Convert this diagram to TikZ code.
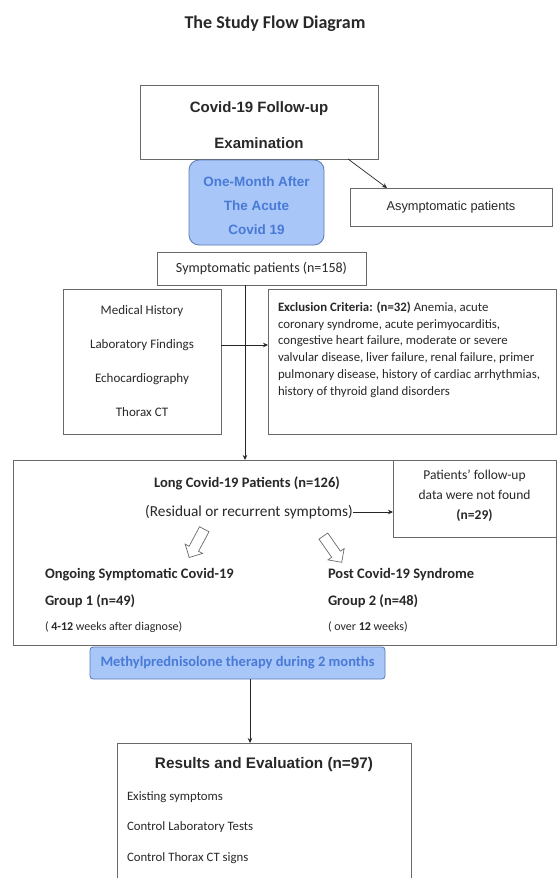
\documentclass[tikz,border=0pt]{standalone}
\usepackage{fontspec}
\setmainfont{Carlito}
\newfontfamily\arialfont{Liberation Sans}
\usetikzlibrary{positioning, shapes.arrows, arrows.meta, calc}
\definecolor{BoxLine}{RGB}{105,105,105}
\definecolor{BlueFill}{RGB}{168,198,248}
\definecolor{BlueText}{RGB}{72,122,214}
\definecolor{BlueLine}{RGB}{92,122,182}
\definecolor{Ink}{RGB}{40,40,40}

\begin{document}
\begin{tikzpicture}[
        x=1pt, y=-1pt,
        >={Stealth[length=5pt, width=4.5pt]},
        every node/.style={inner sep=0, outer sep=0, text=Ink},
        plainbox/.style={draw=BoxLine, fill=white, line width=0.8pt},
        bluebox/.style={draw=BlueLine, fill=BlueFill, line width=0.8pt},
        hollow/.style={single arrow, draw=BoxLine, fill=white, line width=0.7pt, inner sep=5pt, minimum height=32pt, single arrow head extend=4.5pt},
        link/.style={->, line width=0.7pt, black!85}
    ]
        \useasboundingbox (0,0) rectangle (557,878);

        % Title
        \node[font=\bfseries\fontsize{18}{20}\selectfont] (title) at (275,24) {The Study Flow Diagram};

        % Follow-up examination
        \node[plainbox, minimum width=238, minimum height=74] (exam) at (259,122) {};
        \node[align=center, font=\arialfont\bfseries\fontsize{15}{36}\selectfont] (examtxt) at (259,125) {Covid-19 Follow-up\\Examination};

        % One month after
        \node[bluebox, rounded corners=10pt, minimum width=135, minimum height=85] (month) at (256.5,202.5) {};
        \node[align=center, text=BlueText, font=\arialfont\bfseries\fontsize{13.5}{24}\selectfont] (monthtxt) at (256.5,206) {One-Month After\\The Acute\\Covid 19};

        % Asymptomatic
        \node[plainbox, minimum width=202, minimum height=38, font=\arialfont\fontsize{12.8}{15}\selectfont] (asym) at (451,207) {Asymptomatic patients};
        \draw[link] ([xshift=-30pt]exam.south east) -- ([xshift=37pt]asym.north west);

        % Symptomatic
        \node[plainbox, minimum width=209, minimum height=33, font=\fontsize{14}{16}\selectfont] (symp) at (261.5,268.5) {Symptomatic patients (n=158)};

        % Work-up
        \node[plainbox, minimum width=158, minimum height=145] (hist) at (142,361.5) {};
        \node[align=center, font=\fontsize{13}{34}\selectfont] (histtxt) at (142,361.5) {Medical History\\Laboratory Findings\\Echocardiography\\Thorax CT};

        % Exclusion
        \node[plainbox, minimum width=288, minimum height=145] (excl) at (412,361.5) {};
        \node[anchor=north west, align=left, font=\fontsize{12.8}{16.7}\selectfont] (excltxt) at (278,302) {\textbf{Exclusion Criteria: (n=32)} Anemia, acute\\coronary syndrome, acute perimyocarditis,\\congestive heart failure, moderate or severe\\valvular disease, liver failure, renal failure, primer\\pulmonary disease, history of cardiac arrhythmias,\\history of thyroid gland disorders};
        \draw[link] ([yshift=16.5pt]hist.east) -- ([yshift=16.5pt]excl.west);

        % Long covid
        \node[plainbox, minimum width=543, minimum height=185] (longbox) at (284.5,552.5) {};
        \draw[link] ([xshift=-16.5pt]symp.south) -- ([xshift=-16.5pt]symp.south |- longbox.north);
        \node[font=\bfseries\fontsize{14.5}{16}\selectfont] (longtxt) at (247,483) {Long Covid-19 Patients (n=126)};
        \node[font=\fontsize{15.3}{17}\selectfont] (resid) at (249,512) {(Residual or recurrent symptoms)};

        % Lost to follow-up
        \node[plainbox, minimum width=163, minimum height=77] (lost) at (474.5,498.5) {};
        \node[align=center, font=\fontsize{13.5}{20}\selectfont] (losttxt) at (474.5,496) {Patients' follow-up\\data were not found\\\textbf{(n=29)}};
        \draw[link] (resid.east) -- (resid.east -| lost.west);

        % Groups
        \node[hollow, rotate=242] (split1) at (198,541) {};
        \node[hollow, rotate=305] (split2) at (331,547) {};
        \node[anchor=north west, align=left, font=\bfseries\fontsize{14.5}{27}\selectfont] (grp1) at (45,568) {Ongoing Symptomatic Covid-19\\Group 1 (n=49)};
        \node[anchor=west, font=\fontsize{12}{14}\selectfont] (grp1note) at (45,627) {( \textbf{4-12} weeks after diagnose)};
        \node[anchor=north west, align=left, font=\bfseries\fontsize{14.5}{27}\selectfont] (grp2) at (328,568) {Post Covid-19 Syndrome\\Group 2 (n=48)};
        \node[anchor=west, font=\fontsize{12}{14}\selectfont] (grp2note) at (328,627) {( over \textbf{12} weeks)};

        % Therapy
        \node[bluebox, rounded corners=3pt, minimum width=295, minimum height=32, text=BlueText, font=\bfseries\fontsize{14.5}{16}\selectfont] (therapy) at (237.5,663) {Methylprednisolone therapy during 2 months};

        % Results
        \node[plainbox, minimum width=294, minimum height=160] (results) at (264,823) {};
        \draw[link] ([xshift=12.5pt]therapy.south) -- ([xshift=12.5pt]therapy.south |- results.north);
        \node[font=\arialfont\bfseries\fontsize{15.3}{18}\selectfont] (restitle) at (264,765) {Results and Evaluation (n=97)};
        \node[anchor=west, font=\fontsize{12.8}{14}\selectfont] (res1) at (127,797) {Existing symptoms};
        \node[anchor=west, font=\fontsize{12.8}{14}\selectfont] (res2) at (127,827) {Control Laboratory Tests};
        \node[anchor=west, font=\fontsize{12.8}{14}\selectfont] (res3) at (127,858) {Control Thorax CT signs};
    \end{tikzpicture}
\end{document}
